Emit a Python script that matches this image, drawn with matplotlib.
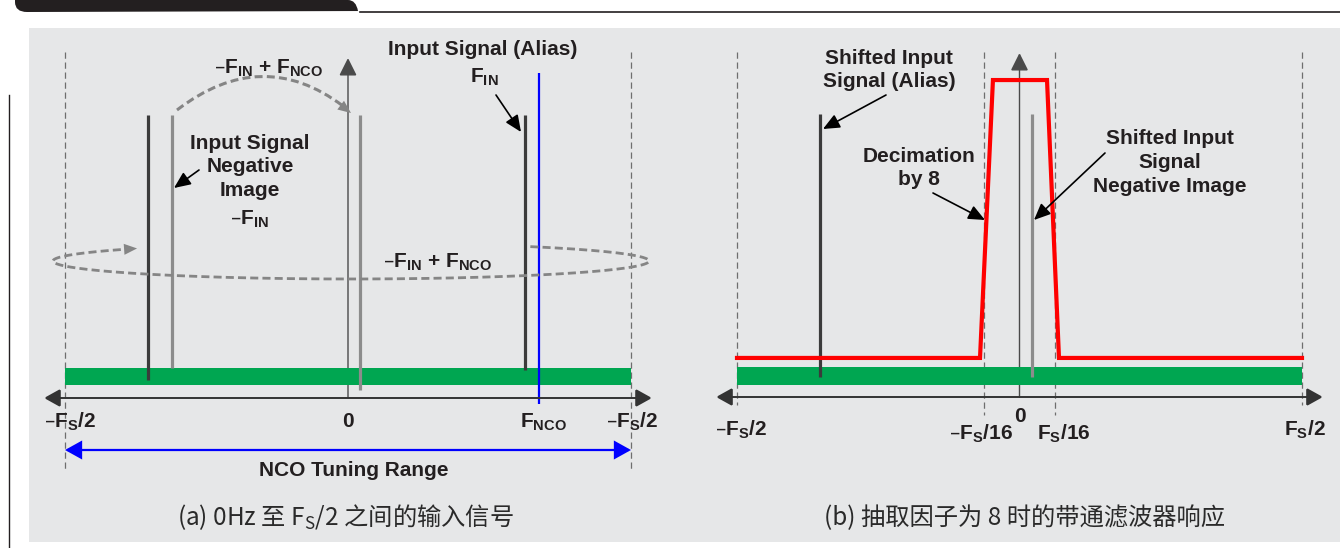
import matplotlib
matplotlib.use('Agg')
import matplotlib.pyplot as plt
from matplotlib import transforms as mtransforms
from matplotlib.patches import Rectangle, PathPatch, FancyArrowPatch, Polygon
from matplotlib.path import Path
import numpy as np

# ---------------- data (frequency in units of Fs, amplitude relative) ----------------
# Panel (a): input between 0 Hz and Fs/2
a_line_freqs = [-0.353, -0.311, 0.022, 0.313]
a_line_tops = [1.0, 1.0, 1.0, 1.0]
a_line_bottoms = [0.064, 0.106, 0.030, 0.100]
a_line_kinds = ['dark', 'gray', 'gray', 'dark']
a_nco_freq = 0.3375
a_nco_span = [-0.021, 1.148]
a_tick_freqs = [-0.5, 0.0, 0.3375, 0.5]
a_tick_labels = ['–F$_\\mathregular{S}$/2', '0', 'F$_\\mathregular{NCO}$', '–F$_\\mathregular{S}$/2']
a_noise_band = [0.046, 0.106]
a_range = [-0.5, 0.5]

# Panel (b): band-pass response for decimation by 8
b_line_freqs = [-0.353, 0.023]
b_line_tops = [1.0, 1.0]
b_line_bottoms = [0.07, 0.07]
b_line_kinds = ['dark', 'gray']
b_filter_freqs = [-0.5, -0.0699, -0.047, 0.0487, 0.0699, 0.5]
b_filter_gain = [0.138, 0.138, 1.12, 1.12, 0.138, 0.138]
b_tick_freqs = [-0.5, -0.0625, 0.0, 0.0625, 0.5]
b_tick_labels = ['–F$_\\mathregular{S}$/2', '–F$_\\mathregular{S}$/16', '0', 'F$_\\mathregular{S}$/16', 'F$_\\mathregular{S}$/2']
b_noise_band = [0.042, 0.106]
b_range = [-0.5, 0.5]

# ---------------- style ----------------
LBL = ['Liberation Sans', 'DejaVu Sans']
CJK = ['Noto Sans CJK SC', 'DejaVu Sans']
TXT = '#231f20'
DARK = '#3b3b3b'
GRAY = '#8c8c8c'
ARCG = '#858585'
GREEN = '#00a651'
BG = '#e6e7e8'
KIND_COL = {'dark': DARK, 'gray': GRAY}
LS = 15.0  # label font size
CS = 17.5  # caption font size

W, H = 1340, 548
fig = plt.figure(figsize=(W / 100, H / 100), dpi=100)
fig.patch.set_facecolor('white')
PX = mtransforms.Affine2D().scale(1 / W, -1 / H).translate(0, 1) + fig.transFigure

# background panel and header decoration
fig.patches.append(Rectangle((29, 28), W - 29, 514, transform=PX, facecolor=BG,
                             edgecolor='none', zorder=-5))
hdr = Path([(15, 0), (348, 0), (356, 0), (358, 11), (366, 11), (27, 12), (15, 12), (15, 2), (15, 0)],
           [Path.MOVETO, Path.LINETO, Path.CURVE3, Path.CURVE3, Path.LINETO, Path.LINETO,
            Path.CURVE3, Path.CURVE3, Path.CLOSEPOLY])
fig.patches.append(PathPatch(hdr, transform=PX, facecolor='#231f20', edgecolor='none', zorder=-4))
fig.lines.append(plt.Line2D([360, W], [11.5, 11.5], transform=PX, color='#231f20', lw=1.2, zorder=-4))
fig.lines.append(plt.Line2D([9, 9], [95, H], transform=PX, color='#231f20', lw=1.0, zorder=-4))

AMP = 283.0


def make_axes(x0, x1, c, s, y_axis):
    ax = fig.add_axes([x0 / W, 1 - 542 / H, (x1 - x0) / W, (542 - 28) / H])
    ax.set_xlim((x0 - c) / s, (x1 - c) / s)
    ax.set_ylim((y_axis - 542) / AMP, (y_axis - 28) / AMP)
    ax.axis('off')
    ax.patch.set_alpha(0)
    return ax


def arrow(ax, p0, p1, transform, color, lw, hl=0.4, hw=0.2, ms=22, style='-|>', z=5):
    a = FancyArrowPatch(p0, p1, transform=transform, arrowstyle=f'{style},head_length={hl},head_width={hw}',
                        mutation_scale=ms, color=color, lw=lw, shrinkA=0, shrinkB=0, zorder=z,
                        joinstyle='miter', capstyle='butt')
    ax.add_artist(a)
    return a


def head(tip, direction, L, Wd, color, z):
    tip = np.asarray(tip, float)
    d = np.asarray(direction, float)
    d = d / np.hypot(*d)
    n = np.array([-d[1], d[0]])
    base = tip - L * d
    fig.patches.append(Polygon([tip, base + Wd / 2 * n, base - Wd / 2 * n], closed=True,
                               transform=PX, facecolor=color, edgecolor='none', zorder=z))


def label(x, y, s, size=LS, ha='center', weight='bold', fam=LBL, color=TXT, tr=PX):
    fig.text(x, y, s, transform=tr, ha=ha, va='baseline', fontsize=size,
             fontweight=weight, family=fam, color=color, zorder=8)


def draw_panel(ax, freqs, bottoms, tops, kinds, noise, rng, ticks, tlabels, tbase, tdx,
               dashed, arrow_top_px):
    BT = mtransforms.blended_transform_factory(ax.transData, PX)
    # dashed guide lines
    for f, y0, y1 in dashed:
        ax.plot([f, f], [y0, y1], transform=BT, color='#6e6e6e', lw=0.9,
                ls=(0, (5, 3)), zorder=1)
    # noise floor
    ax.fill_between(rng, [noise[0]] * 2, [noise[1]] * 2, color=GREEN, lw=0, zorder=2)
    # vertical centre axis
    arrow(ax, (0, 398), (0, arrow_top_px), BT, '#4a4a4a', 1.0, hl=0.5, hw=0.25, ms=22, z=1)
    # horizontal axis with arrows
    arrow(ax, (-0.537, 0), (0.537, 0), ax.transData, '#333333', 1.4, hl=0.45, hw=0.25, ms=22,
          style='<|-|>', z=6)
    # spectral lines
    ax.vlines(freqs, bottoms, tops, colors=[KIND_COL[k] for k in kinds], lw=2.3, zorder=3)
    # tick labels
    for f, s, yb, dx in zip(ticks, tlabels, tbase, tdx):
        tr = BT + mtransforms.ScaledTranslation(dx / 100, 0, fig.dpi_scale_trans)
        ax.text(f, yb, s, transform=tr, ha='center', va='baseline', fontsize=LS,
                fontweight='bold', family=LBL, color=TXT, zorder=7)
    return BT


# ---------------- panel (a) ----------------
axa = make_axes(29, 670, 348.0, 566.0, 398.0)
BTa = draw_panel(axa, a_line_freqs, a_line_bottoms, a_line_tops, a_line_kinds, a_noise_band,
                 a_range, a_tick_freqs, a_tick_labels, [427] * 4, [5, 0, 4, 1],
                 [(a_range[0], 52, 470), (a_range[1], 52, 470)], 58)
# NCO line
axa.vlines([a_nco_freq], a_nco_span[0], a_nco_span[1], colors='#0000ff', lw=1.6, zorder=4)
# NCO tuning range
arrow(axa, (a_range[0], 450), (a_range[1], 450), BTa, '#0000ff', 1.6, hl=0.45, hw=0.25, ms=22,
      style='<|-|>', z=5)

# dashed arc (-FIN -> -FIN + FNCO)
arc = Path([(177, 110), (262, 45), (343, 106)], [Path.MOVETO, Path.CURVE3, Path.CURVE3])
fig.patches.append(PathPatch(arc, transform=PX, facecolor='none', edgecolor=ARCG, lw=2.2,
                             ls=(0, (2.6, 1.4)), zorder=3))
head((351, 113), (88, 67), 13, 11, ARCG, 3)

# dashed wrap-around ellipse
cx, cy, ea, eb = 351.0, 261.0, 298.0, 18.0
t = np.radians(np.linspace(53, -221, 240))
ell = Path(np.column_stack([cx + ea * np.cos(t), cy - eb * np.sin(t)]))
fig.patches.append(PathPatch(ell, transform=PX, facecolor='none', edgecolor=ARCG, lw=2.0,
                             ls=(0, (2.9, 1.5)), zorder=1))
te = np.radians(-221)
e_end = np.array([cx + ea * np.cos(te), cy - eb * np.sin(te)])
e_dir = np.array([ea * np.sin(te), eb * np.cos(te)])
e_dir = e_dir / np.hypot(*e_dir)
head(e_end + 11 * e_dir, e_dir, 13, 11, ARCG, 1)

label(269, 73, '–F$_\\mathregular{IN}$ + F$_\\mathregular{NCO}$')
label(483, 55, 'Input Signal (Alias)')
label(484, 82, 'F$_\\mathregular{IN}$')
label(250, 149, 'Input Signal')
label(250, 172, 'Negative')
label(250, 196, 'Image')
label(250, 224, '–F$_\\mathregular{IN}$')
label(438, 267, '–F$_\\mathregular{IN}$ + F$_\\mathregular{NCO}$')
label(354, 476, 'NCO Tuning Range')
label(345, 525, '(a) 0Hz 至 F$_\\mathregular{S}$/2 之间的输入信号', size=CS, weight='normal',
      fam=CJK, color='#2a2a2a')
for p0, p1 in [((496, 95), (521, 132)), ((199, 170), (174, 188))]:
    fig.patches.append(FancyArrowPatch(p0, p1, transform=PX,
                                       arrowstyle='-|>,head_length=0.5,head_width=0.22',
                                       mutation_scale=20, color='black', lw=1.2, shrinkA=0, shrinkB=0,
                                       zorder=6))

# ---------------- panel (b) ----------------
axb = make_axes(670, W, 1019.5, 565.0, 397.0)
BTb = draw_panel(axb, b_line_freqs, b_line_bottoms, b_line_tops, b_line_kinds, b_noise_band,
                 b_range, b_tick_freqs, b_tick_labels, [435, 439, 422, 439, 435], [4, -3, 0, 9, 3],
                 [(b_range[0], 52, 405), (b_range[1], 52, 405), (b_tick_freqs[1], 52, 415),
                  (b_tick_freqs[3], 52, 415)], 53)
axb.plot(b_filter_freqs, b_filter_gain, color='#ff0000', lw=3.0, zorder=5, solid_joinstyle='miter')

label(889, 64, 'Shifted Input')
label(889, 87, 'Signal (Alias)')
label(919, 162, 'Decimation')
label(919, 185, 'by 8')
label(1170, 144, 'Shifted Input')
label(1170, 168, 'Signal')
label(1170, 192, 'Negative Image')
label(1024, 525, '(b) 抽取因子为 8 时的带通滤波器响应', size=CS, weight='normal', fam=CJK,
      color='#2a2a2a')
for p0, p1 in [((886, 95), (823, 129)), ((933, 193), (985, 220)), ((1105, 153), (1034, 220))]:
    fig.patches.append(FancyArrowPatch(p0, p1, transform=PX,
                                       arrowstyle='-|>,head_length=0.5,head_width=0.22',
                                       mutation_scale=20, color='black', lw=1.2, shrinkA=0, shrinkB=0,
                                       zorder=6))

fig.savefig('out.png', dpi=100, facecolor='white')
